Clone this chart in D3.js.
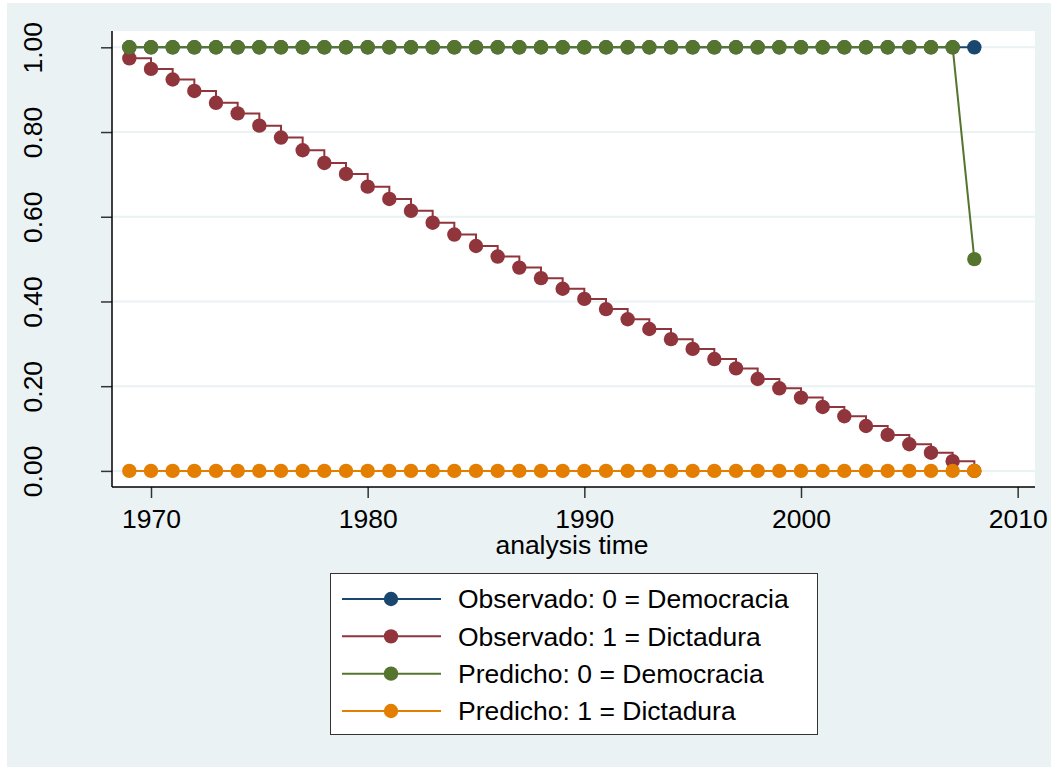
<!DOCTYPE html>
<html>
<head>
<meta charset="utf-8">
<script src="https://cdn.jsdelivr.net/npm/d3@7"></script>
<style>
  body { margin: 0; background: #fff; }
  text { font-family: "Liberation Sans", Arial, sans-serif; }
</style>
</head>
<body>
<div id="chart"></div>
<script>
// years on the analysis-time axis
var years = [1969, 1970, 1971, 1972, 1973, 1974, 1975, 1976, 1977, 1978,
             1979, 1980, 1981, 1982, 1983, 1984, 1985, 1986, 1987, 1988,
             1989, 1990, 1991, 1992, 1993, 1994, 1995, 1996, 1997, 1998,
             1999, 2000, 2001, 2002, 2003, 2004, 2005, 2006, 2007, 2008];

var obsDemocracia = [1, 1, 1, 1, 1, 1, 1, 1, 1, 1,
                     1, 1, 1, 1, 1, 1, 1, 1, 1, 1,
                     1, 1, 1, 1, 1, 1, 1, 1, 1, 1,
                     1, 1, 1, 1, 1, 1, 1, 1, 1, 1];

var obsDictadura = [0.974, 0.949, 0.924, 0.897, 0.869, 0.844, 0.815, 0.787, 0.757, 0.727,
                    0.701, 0.671, 0.642, 0.614, 0.586, 0.558, 0.531, 0.506, 0.480, 0.455,
                    0.430, 0.406, 0.382, 0.358, 0.335, 0.311, 0.288, 0.264, 0.242, 0.217,
                    0.195, 0.173, 0.151, 0.129, 0.106, 0.085, 0.063, 0.043, 0.023, 0];

var predDemocracia = [1, 1, 1, 1, 1, 1, 1, 1, 1, 1,
                      1, 1, 1, 1, 1, 1, 1, 1, 1, 1,
                      1, 1, 1, 1, 1, 1, 1, 1, 1, 1,
                      1, 1, 1, 1, 1, 1, 1, 1, 1, 0.5];

var predDictadura = [0, 0, 0, 0, 0, 0, 0, 0, 0, 0,
                     0, 0, 0, 0, 0, 0, 0, 0, 0, 0,
                     0, 0, 0, 0, 0, 0, 0, 0, 0, 0,
                     0, 0, 0, 0, 0, 0, 0, 0, 0, 0];

var xTicks = [1970, 1980, 1990, 2000, 2010];
var yTicks = [0, 0.2, 0.4, 0.6, 0.8, 1];

var seriesNames = ["Observado: 0 = Democracia", "Observado: 1 = Dictadura",
                   "Predicho: 0 = Democracia", "Predicho: 1 = Dictadura"];

var width = 1051, height = 767;
var plot = {left: 112, top: 31, right: 1035, bottom: 487};
var fontSize = 26.5;

var series = [
  {name: seriesNames[0], values: obsDemocracia, color: "#1a476f", step: false},
  {name: seriesNames[1], values: obsDictadura, color: "#90353b", step: true},
  {name: seriesNames[2], values: predDemocracia, color: "#55752f", step: false},
  {name: seriesNames[3], values: predDictadura, color: "#e37e00", step: false}
];

var svg = d3.select("#chart").append("svg")
    .attr("width", width)
    .attr("height", height);

// outer graph region
svg.append("rect")
    .attr("x", 7).attr("y", 3)
    .attr("width", width - 7).attr("height", height - 3)
    .attr("fill", "#eaf2f3");

// plot region
svg.append("rect")
    .attr("x", plot.left).attr("y", plot.top)
    .attr("width", plot.right - plot.left).attr("height", plot.bottom - plot.top)
    .attr("fill", "#ffffff");

var x = d3.scaleLinear().domain([1968.2, 2010.8]).range([plot.left, plot.right]);
var y = d3.scaleLinear().domain([-0.038, 1.0385]).range([plot.bottom, plot.top]);

// grid lines
svg.append("g").selectAll("line")
    .data(yTicks)
  .enter().append("line")
    .attr("x1", plot.left).attr("x2", plot.right)
    .attr("y1", function(d) { return y(d); })
    .attr("y2", function(d) { return y(d); })
    .attr("stroke", "#eaf2f3")
    .attr("stroke-width", 2);

// series
series.forEach(function(s) {
  var pts = years.map(function(yr, i) { return [yr, s.values[i]]; });
  var line = d3.line()
      .x(function(d) { return x(d[0]); })
      .y(function(d) { return y(d[1]); })
      .curve(s.step ? d3.curveStepAfter : d3.curveLinear);

  svg.append("path")
      .datum(pts)
      .attr("d", line)
      .attr("fill", "none")
      .attr("stroke", s.color)
      .attr("stroke-width", 2);

  svg.append("g").selectAll("circle")
      .data(pts)
    .enter().append("circle")
      .attr("cx", function(d) { return x(d[0]); })
      .attr("cy", function(d) { return y(d[1]); })
      .attr("r", 7.2)
      .attr("fill", s.color);
});

// y axis
var yAxis = d3.axisLeft(y)
    .tickValues(yTicks)
    .tickSize(11)
    .tickFormat(d3.format(".2f"));

var gy = svg.append("g")
    .attr("transform", "translate(" + plot.left + ",0)")
    .call(yAxis);
gy.select(".domain").remove();
gy.selectAll(".tick line").attr("stroke", "#333").attr("stroke-width", 1.5);
gy.selectAll(".tick text")
    .attr("x", 0).attr("dy", 0)
    .attr("transform", "translate(-70,0) rotate(-90)")
    .attr("text-anchor", "middle")
    .attr("font-size", fontSize)
    .attr("fill", "#000");

// x axis
var xAxis = d3.axisBottom(x)
    .tickValues(xTicks)
    .tickSize(11)
    .tickFormat(d3.format("d"));

var gx = svg.append("g")
    .attr("transform", "translate(0," + plot.bottom + ")")
    .call(xAxis);
gx.select(".domain").remove();
gx.selectAll(".tick line").attr("stroke", "#333").attr("stroke-width", 1.5);
gx.selectAll(".tick text")
    .attr("y", 41).attr("dy", 0)
    .attr("font-size", fontSize)
    .attr("fill", "#000");

// axis lines
svg.append("line")
    .attr("x1", plot.left).attr("x2", plot.left)
    .attr("y1", plot.top).attr("y2", plot.bottom)
    .attr("stroke", "#000").attr("stroke-width", 1.5);
svg.append("line")
    .attr("x1", plot.left).attr("x2", plot.right)
    .attr("y1", plot.bottom).attr("y2", plot.bottom)
    .attr("stroke", "#000").attr("stroke-width", 1.5);

svg.append("text")
    .attr("x", 572).attr("y", 554)
    .attr("text-anchor", "middle")
    .attr("font-size", fontSize)
    .text("analysis time");

// legend
var legend = svg.append("g");
legend.append("rect")
    .attr("x", 330.5).attr("y", 573.5)
    .attr("width", 487).attr("height", 161)
    .attr("fill", "#fff")
    .attr("stroke", "#333")
    .attr("stroke-width", 1);

var rowY = d3.scalePoint().domain(seriesNames).range([599, 711]);

var item = legend.selectAll(".item")
    .data(series)
  .enter().append("g")
    .attr("class", "item")
    .attr("transform", function(d) { return "translate(0," + rowY(d.name) + ")"; });

item.append("line")
    .attr("x1", 342).attr("x2", 441)
    .attr("stroke", function(d) { return d.color; })
    .attr("stroke-width", 2);
item.append("circle")
    .attr("cx", 391).attr("r", 7.2)
    .attr("fill", function(d) { return d.color; });
item.append("text")
    .attr("x", 458).attr("dy", "0.35em")
    .attr("font-size", fontSize)
    .text(function(d) { return d.name; });
</script>
</body>
</html>
